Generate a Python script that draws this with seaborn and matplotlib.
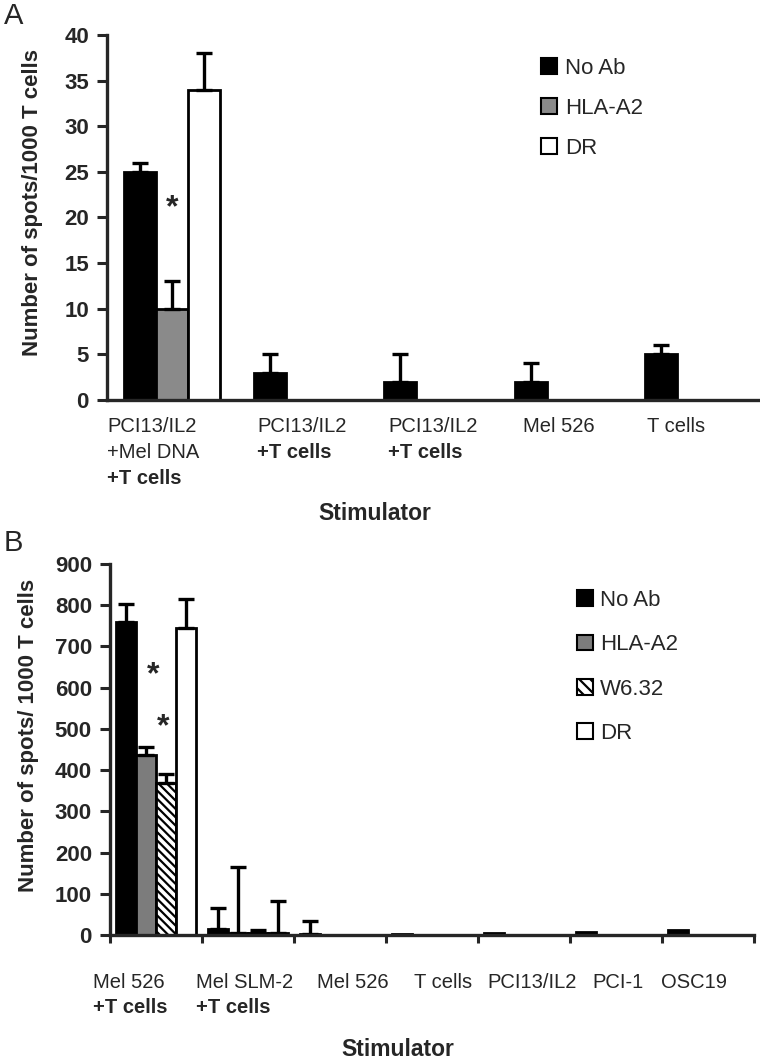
import numpy as np
import pandas as pd
import seaborn as sns
import matplotlib.pyplot as plt
import matplotlib.patches as mpatches

# Panel A data
a_labels = [("PCI13/IL2", "+Mel DNA", "+T cells"), ("PCI13/IL2", "+T cells"),
            ("PCI13/IL2", "+T cells"), ("Mel 526",), ("T cells",)]
a_antibodies = ["No Ab", "HLA-A2", "DR"]
a_no_ab = [25, 3, 2, 2, 5]
a_no_ab_err = [1, 2, 3, 2, 1]
a_hla = [10, 0, 0, 0, 0]
a_hla_err = [3, 0, 0, 0, 0]
a_dr = [34, 0, 0, 0, 0]
a_dr_err = [4, 0, 0, 0, 0]

# Panel B data
b_labels = [("Mel 526", "+T cells"), ("Mel SLM-2", "+T cells"), ("Mel 526",), ("T cells",),
            ("PCI13/IL2",), ("PCI-1",), ("OSC19",)]
b_antibodies = ["No Ab", "HLA-A2", "W6.32", "DR"]
b_no_ab = [760, 15, 3, 3, 5, 8, 11]
b_no_ab_err = [43, 50, 32, 0, 0, 0, 0]
b_hla = [437, 4, 0, 0, 0, 0, 0]
b_hla_err = [19, 161, 0, 0, 0, 0, 0]
b_w632 = [369, 4, 0, 0, 0, 0, 0]
b_w632_err = [22, 8, 0, 0, 0, 0, 0]
b_dr = [745, 5, 0, 0, 0, 0, 0]
b_dr_err = [71, 78, 0, 0, 0, 0, 0]

sns.set_style("ticks")
plt.rcParams["font.family"] = ["Liberation Sans", "DejaVu Sans"]
plt.rcParams["hatch.linewidth"] = 1.6

W, H = 760, 1062


def fx(x):
    return x / W


def fy(y):
    return 1 - y / H


def draw_panel(ax, antibodies, values, errors, colors, width, ymax, step):
    rows = []
    for ab in antibodies:
        for i, v in enumerate(values[ab]):
            rows.append({"stim": i, "ab": ab, "value": v})
    df = pd.DataFrame(rows)
    sns.barplot(data=df, x="stim", y="value", hue="ab", hue_order=antibodies,
                palette=colors, width=width, errorbar=None, saturation=1,
                edgecolor="black", linewidth=2, legend=False, ax=ax)

    # one-sided error bars on top of each bar
    for ab, cont in zip(antibodies, ax.containers):
        for bar in cont:
            xc = bar.get_x() + bar.get_width() / 2
            err = errors[ab][int(round(xc))]
            if err > 0:
                ax.errorbar(xc, bar.get_height(), yerr=[[0], [err]], fmt="none",
                            ecolor="black", elinewidth=2.4, capsize=6, capthick=2.4)

    ax.set_xlim(-0.5, len(values[antibodies[0]]) - 0.5)
    ax.set_ylim(0, ymax)
    ax.set_yticks(range(0, ymax + 1, step))
    ax.set_xlabel("")
    ax.set_ylabel("")
    sns.despine(ax=ax)
    for s in ["left", "bottom"]:
        ax.spines[s].set_linewidth(2.4)
    ax.tick_params(axis="y", length=7, width=2.2, pad=6, labelsize=16)
    for t in ax.get_yticklabels():
        t.set_fontweight("bold")
    return ax


def stim_labels(starts, labels, y0, dy):
    for x, lines in zip(starts, labels):
        for k, line in enumerate(lines):
            fig.text(fx(x), fy(y0 + k * dy), line, ha="left", va="center", fontsize=14.5,
                     fontweight="bold" if line.startswith("+T") else "normal")


fig = plt.figure(figsize=(7.6, 10.62), dpi=100)

# ---- Panel A
ax_a = fig.add_axes([fx(107), fy(400), (758 - 107) / W, (400 - 35) / H])
a_colors = {"No Ab": "black", "HLA-A2": "#8a8a8a", "DR": "white"}
draw_panel(ax_a, a_antibodies,
           {"No Ab": a_no_ab, "HLA-A2": a_hla, "DR": a_dr},
           {"No Ab": a_no_ab_err, "HLA-A2": a_hla_err, "DR": a_dr_err},
           a_colors, 0.74, 40, 5)
ax_a.set_xticks([])
ax_a.text(0.0, 21.0, "*", ha="center", va="center", fontsize=23, fontweight="bold")

a_handles = [mpatches.Patch(facecolor=a_colors[ab], edgecolor="black", linewidth=1.5)
             for ab in a_antibodies]
ax_a.legend(a_handles, a_antibodies, loc="upper left", bbox_to_anchor=(fx(541), fy(58)),
            bbox_transform=fig.transFigure, frameon=False, borderpad=0, borderaxespad=0,
            handlelength=0.72, handleheight=0.72, handletextpad=0.35, labelspacing=0.85,
            fontsize=16)

stim_labels([107, 257, 388, 523, 647], a_labels, 427, 25.5)
fig.text(fx(375), fy(513), "Stimulator", ha="center", va="center", fontsize=16.5, fontweight="bold")
fig.text(fx(33), fy(203), "Number of spots/1000 T cells", rotation=90, ha="center", va="center",
         fontsize=16, fontweight="bold")
fig.text(fx(4), fy(16), "A", ha="left", va="center", fontsize=21)

# ---- Panel B
ax_b = fig.add_axes([fx(110), fy(935), (754 - 110) / W, (935 - 564) / H])
b_colors = {"No Ab": "black", "HLA-A2": "#7c7c7c", "W6.32": "white", "DR": "white"}
draw_panel(ax_b, b_antibodies,
           {"No Ab": b_no_ab, "HLA-A2": b_hla, "W6.32": b_w632, "DR": b_dr},
           {"No Ab": b_no_ab_err, "HLA-A2": b_hla_err, "W6.32": b_w632_err, "DR": b_dr_err},
           b_colors, 0.88, 900, 100)
for bar in ax_b.containers[2]:
    bar.set_hatch("\\\\\\\\")
ax_b.set_xticks(np.arange(-0.5, len(b_labels), 1))
ax_b.set_xticklabels([])
ax_b.tick_params(axis="x", length=6, width=2.2)
ax_b.text(-0.03, 630, "*", ha="center", va="center", fontsize=23, fontweight="bold")
ax_b.text(0.08, 505, "*", ha="center", va="center", fontsize=23, fontweight="bold")

b_handles = [mpatches.Patch(facecolor=b_colors[ab], edgecolor="black", linewidth=1.5,
                            hatch="\\\\\\" if ab == "W6.32" else None)
             for ab in b_antibodies]
ax_b.legend(b_handles, b_antibodies, loc="upper left", bbox_to_anchor=(fx(577), fy(590)),
            bbox_transform=fig.transFigure, frameon=False, borderpad=0, borderaxespad=0,
            handlelength=0.72, handleheight=0.72, handletextpad=0.3, labelspacing=1.05,
            fontsize=16)

stim_labels([93, 196, 317, 414, 487, 592, 661], b_labels, 982, 25.5)
fig.text(fx(398), fy(1050), "Stimulator", ha="center", va="center", fontsize=16.5, fontweight="bold")
fig.text(fx(29), fy(735), "Number of spots/ 1000 T cells", rotation=90, ha="center", va="center",
         fontsize=16, fontweight="bold")
fig.text(fx(4), fy(543), "B", ha="left", va="center", fontsize=21)

fig.savefig("out.png", dpi=100)
